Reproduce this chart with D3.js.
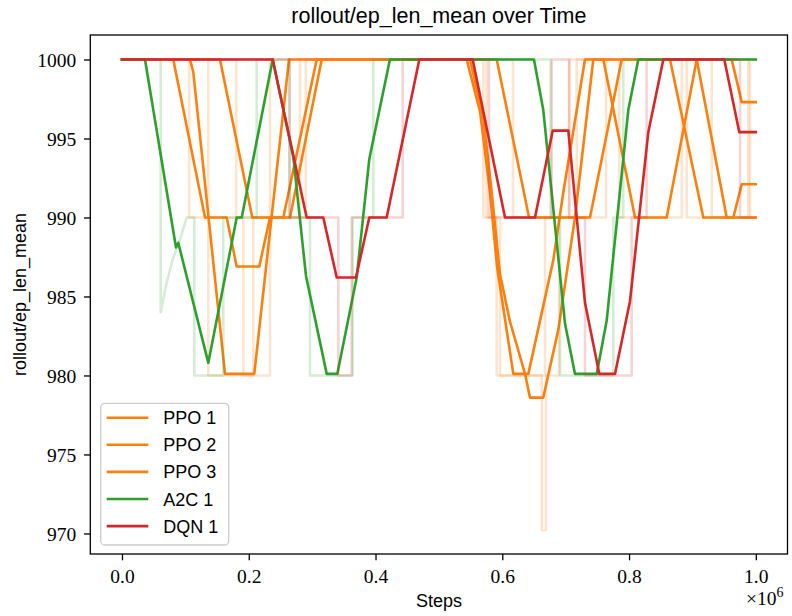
<!DOCTYPE html>
<html><head><meta charset="utf-8">
<script src="https://cdn.jsdelivr.net/npm/d3@7"></script>
<style>body{margin:0;background:#fff}svg{display:block}</style>
</head><body>
<svg id="chart" width="792" height="616"></svg>
<script>
// ---- data (x in thousands of steps, y = rollout/ep_len_mean) ----
const seriesNames  = ["PPO 1", "PPO 2", "PPO 3", "A2C 1", "DQN 1"];
const seriesColors = ["#ff7f0e", "#ff7f0e", "#ff7f0e", "#2ca02c", "#d62728"];

const ppo1Raw = [[0,1000],[106.0,1000],[106.0,990],[191.4,990],[191.4,980],[207.2,980],[207.2,990],[290.0,990],[290.0,1000],[570.1,1000],[570.1,990],[591.2,990],[591.2,980],[667.4,980],[667.4,990],[705.3,990],[705.3,1000],[784.5,1000],[784.5,990],[883.1,990],[883.1,1000],[988.2,1000],[988.2,990],[1000,990]];
const ppo1Smooth = [[0,1000],[80.9,1000],[131.0,990],[165.2,990],[181.0,986.9],[216.6,986.9],[233.5,990],[265.1,990],[315.1,1000],[543.9,1000],[564.9,996.7],[580.6,991.6],[591.7,986.9],[617.4,980.1],[641.1,980.1],[680.5,987.3],[696.3,991.6],[730.5,1000],[759.4,1000],[809.4,990],[859.4,990],[906.8,1000],[962.0,1000],[977.8,997.3],[1000,997.3]];

const ppo2Raw = [[0,1000],[136.2,1000],[136.2,980],[233.5,980],[233.5,1000],[575.3,1000],[575.3,990],[596.4,990],[596.4,980],[662.2,980],[662.2,970.2],[669.0,970.2],[669.0,980],[689.5,980],[689.5,990],[717.4,990],[717.4,1000],[891.0,1000],[891.0,990],[990.8,990],[990.8,1000],[1000,1000]];
const ppo2Smooth = [[0,1000],[107.3,1000],[112.5,999.2],[162.5,980.1],[208.7,980.1],[263.5,1000],[549.1,1000],[570.1,996.3],[583.3,991.6],[596.4,986.4],[612.2,983.4],[635.9,980.1],[643.7,978.6],[664.7,978.6],[688.4,982.9],[714.7,990],[743.6,1000],[864.6,1000],[917.2,990],[964.5,990],[977.8,992.1],[1000,992.1]];

const ppo3Raw = [[0,1000],[180.2,1000],[180.2,990],[280.8,990],[280.8,1000],[616.8,1000],[616.8,990],[763.7,990],[763.7,1000],[930.4,1000],[930.4,990],[1000,990]];
const ppo3Smooth = [[0,1000],[154.6,1000],[205.6,990],[254.5,990],[307.2,1000],[591.2,1000],[642.2,990],[738.4,990],[788.4,1000],[906.8,1000],[954.1,990],[1000,990]];

const a2cRaw = [[0,1000],[61.1,1000],[61.1,984.0],[69.4,985.7],[78.9,987.2],[91.5,988.6],[102.1,990],[114.1,990],[114.1,980],[159.8,980],[159.8,990],[212.5,990],[212.5,1000],[264.0,1000],[264.0,990],[296.6,990],[296.6,980],[364.0,980],[364.0,990],[396.5,990],[396.5,1000],[676.2,1000],[676.2,990],[691.1,990],[691.1,980],[775.2,980],[775.2,990],[790.9,990],[790.9,1000],[1000,1000]];
const a2cSmooth = [[0,1000],[36.3,1000],[85.2,988.1],[88.8,988.4],[136.2,980.8],[181.0,990.0],[188.9,990.0],[237.8,1000],[270.4,993.8],[290.3,986.3],[323.0,980.1],[339.7,980.1],[370.3,986.2],[390.2,993.7],[422.7,1000],[650.0,1000],[664.7,996.8],[698.9,983.3],[714.7,980.1],[749.0,980.1],[764.8,983.5],[798.8,996.8],[814.6,1000],[1000,1000]];

const dqnRaw = [[0,1000],[264.6,1000],[264.6,990],[341.3,990],[341.3,980],[362.4,980],[362.4,990],[442.9,990],[442.9,1000],[579.1,1000],[579.1,990],[678.0,990],[678.0,1000],[705.8,1000],[705.8,990],[730.5,990],[730.5,980],[804.1,980],[804.1,990],[827.7,990],[827.7,1000],[975.1,1000],[975.1,990],[1000,990]];
const dqnSmooth = [[0,1000],[237.8,1000],[291.4,990],[317.6,990],[338.8,986.2],[369.2,986.2],[390.2,990],[417.6,990],[469.1,1000],[553.3,1000],[604.3,990],[651.6,990],[679.6,995.5],[704.2,995.5],[730.5,984.6],[753.1,980.1],[777.8,980.1],[801.5,984.7],[830.4,995.4],[854.1,1000],[950.3,1000],[974.0,995.4],[1000,995.4]];

const rawSeries    = [ppo1Raw, ppo2Raw, ppo3Raw, a2cRaw, dqnRaw];
const smoothSeries = [ppo1Smooth, ppo2Smooth, ppo3Smooth, a2cSmooth, dqnSmooth];

const xTickValues = [0, 200000, 400000, 600000, 800000, 1000000];
const xTickLabels = ["0.0", "0.2", "0.4", "0.6", "0.8", "1.0"];
const yTickValues = [970, 975, 980, 985, 990, 995, 1000];
const yTickLabels = ["970", "975", "980", "985", "990", "995", "1000"];
const STEP_UNIT = 1000;

// ---- layout ----
const L = 90.3, R = 787.5, T = 35, B = 554;
const svg = d3.select("#chart");
const x = d3.scaleLinear().domain([-50000, 1050000]).range([L, R]);
const y = d3.scaleLinear().domain([968.7, 1001.55]).range([B, T]);

const serif = "'Liberation Serif', 'DejaVu Serif', serif";
const sans = "'Liberation Sans', 'DejaVu Sans', sans-serif";

const plot = svg.append("g");
plot.append("defs").append("clipPath").attr("id", "clip")
  .append("rect").attr("x", L).attr("y", T).attr("width", R - L).attr("height", B - T);

const line = d3.line().x(d => x(d[0] * STEP_UNIT)).y(d => y(d[1]));
const lines = plot.append("g").attr("clip-path", "url(#clip)");
rawSeries.forEach((raw, i) => {
  lines.append("path").attr("d", line(raw)).attr("fill", "none")
    .attr("stroke", seriesColors[i]).attr("stroke-opacity", 0.2)
    .attr("stroke-width", 2.6).attr("stroke-linejoin", "round");
  lines.append("path").attr("d", line(smoothSeries[i])).attr("fill", "none")
    .attr("stroke", seriesColors[i]).attr("stroke-width", 2.6)
    .attr("stroke-linejoin", "round").attr("stroke-linecap", "square");
});

// axes
const xAxis = d3.axisBottom(x).tickValues(xTickValues)
  .tickFormat((d, i) => xTickLabels[i]).tickSize(6.3).tickPadding(9);
const gx = svg.append("g").attr("transform", `translate(0,${B})`).call(xAxis);
const yAxis = d3.axisLeft(y).tickValues(yTickValues)
  .tickFormat((d, i) => yTickLabels[i]).tickSize(6.3).tickPadding(7.8);
const gy = svg.append("g").attr("transform", `translate(${L},0)`).call(yAxis);
[gx, gy].forEach(g => {
  g.select(".domain").remove();
  g.selectAll("line").attr("stroke", "#000").attr("stroke-width", 1.3);
  g.selectAll("text").attr("font-family", serif).attr("font-size", 19.5).attr("fill", "#000");
});
gy.selectAll("text").attr("dy", "0.34em");

svg.append("rect").attr("x", L).attr("y", T).attr("width", R - L).attr("height", B - T)
  .attr("fill", "none").attr("stroke", "#000").attr("stroke-width", 1.3);

// offset text
const off = svg.append("text").attr("x", 746).attr("y", 605)
  .attr("font-family", serif).attr("font-size", 19.5).attr("fill", "#000");
off.append("tspan").text("×10");
off.append("tspan").attr("dy", -8).attr("font-size", 14).text("6");

// labels
svg.append("text").attr("x", (L + R) / 2).attr("y", 23).attr("text-anchor", "middle")
  .attr("font-family", sans).attr("font-size", 21.5).attr("fill", "#000")
  .text("rollout/ep_len_mean over Time");
svg.append("text").attr("x", (L + R) / 2).attr("y", 607).attr("text-anchor", "middle")
  .attr("font-family", sans).attr("font-size", 18).attr("fill", "#000").text("Steps");
svg.append("text").attr("transform", `translate(26,${(T + B) / 2}) rotate(-90)`)
  .attr("text-anchor", "middle").attr("font-family", sans).attr("font-size", 18)
  .attr("fill", "#000").text("rollout/ep_len_mean");

// legend
const lg = svg.append("g");
lg.append("rect").attr("x", 100.7).attr("y", 403.3).attr("width", 128).attr("height", 141.7)
  .attr("rx", 4).attr("fill", "#fff").attr("fill-opacity", 0.8)
  .attr("stroke", "#cccccc").attr("stroke-width", 1.3);
seriesNames.forEach((name, i) => {
  const yy = 417.7 + i * 27.1;
  lg.append("line").attr("x1", 106.7).attr("x2", 148.3).attr("y1", yy).attr("y2", yy)
    .attr("stroke", seriesColors[i]).attr("stroke-width", 2.6);
  lg.append("text").attr("x", 163.3).attr("y", yy + 6.5).attr("font-family", sans)
    .attr("font-size", 18).attr("fill", "#000").text(name);
});
</script>
</body></html>
